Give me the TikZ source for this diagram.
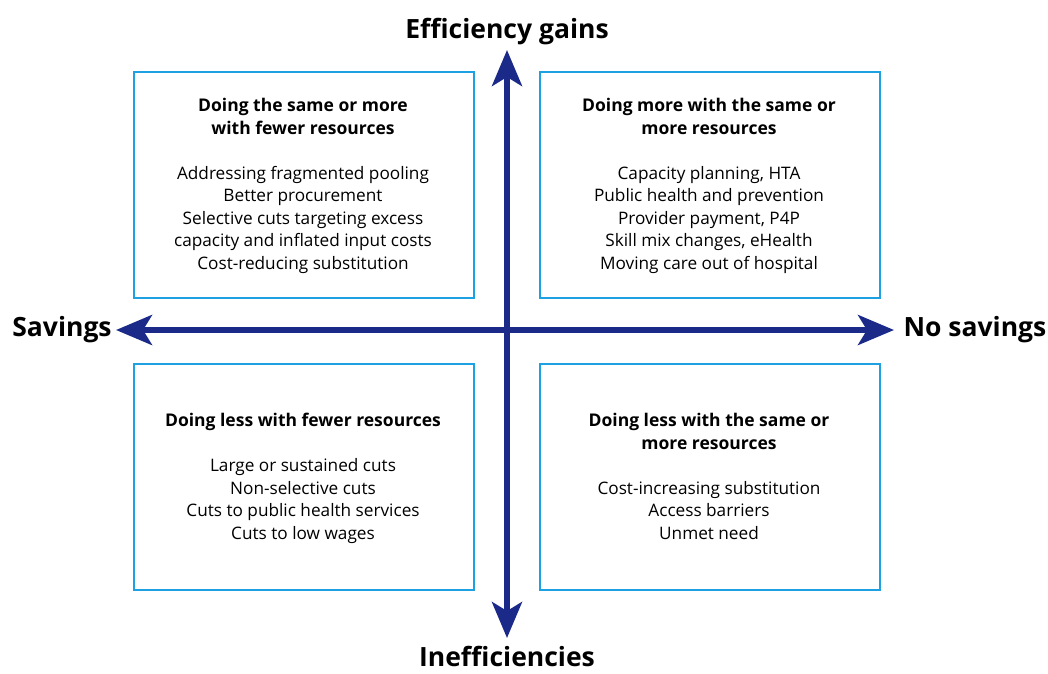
\documentclass[tikz,border=0pt]{standalone}
\usepackage{fontspec}
\setmainfont{Open Sans}
\usetikzlibrary{arrows.meta}
\definecolor{navy}{HTML}{1B2A88}
\definecolor{boxblue}{HTML}{1DA1E2}
\tikzset{
  quad/.style={draw=boxblue, line width=2.2pt, minimum width=340pt, minimum height=226pt, anchor=north west, inner sep=0pt},
  qtext/.style={align=center, font=\fontsize{17.2}{22.5}\selectfont, text=black},
  axlabel/.style={font=\fontsize{26.5}{30}\selectfont\bfseries, text=black, inner sep=0pt},
  axis/.style={draw=navy, line width=5.5pt, {Stealth[length=36pt,width=30pt,inset=9pt]}-{Stealth[length=36pt,width=30pt,inset=9pt]}}
}
\newcommand{\qtitle}[1]{{\fontsize{17.5}{22.5}\selectfont\bfseries #1}}
\begin{document}
\begin{tikzpicture}[x=1pt,y=-1pt]
\useasboundingbox (0,0) rectangle (1048,673);
\node[quad] (tl) at (133,71) {};
\node[quad] (tr) at (539,71) {};
\node[quad] (bl) at (133,363) {};
\node[quad] (br) at (539,363) {};
\coordinate (top) at (507,50);
\coordinate (bot) at (507,638);
\coordinate (lft) at (116,330);
\coordinate (rgt) at (894,330);
\draw[axis] (bot) -- (top);
\draw[axis] (lft) -- (rgt);
\node[axlabel, anchor=base] (eg) at (507,38.5) {Efficiency gains};
\node[axlabel, anchor=base] (ie) at (507,666) {Inefficiencies};
\node[axlabel] (sv) at (62,330) {Savings};
\node[axlabel] (ns) at (975,330) {No savings};
\node[qtext, anchor=north] (tlt) at (303,95) {\qtitle{Doing the same or more}\\\qtitle{with fewer resources}\\[22.5pt]Addressing fragmented pooling\\Better procurement\\Selective cuts targeting excess\\capacity and inflated input costs\\Cost-reducing substitution};
\node[qtext, anchor=north] (trt) at (709,95) {\qtitle{Doing more with the same or}\\\qtitle{more resources}\\[22.5pt]Capacity planning, HTA\\Public health and prevention\\Provider payment, P4P\\Skill mix changes, eHealth\\Moving care out of hospital};
\node[qtext, anchor=north] (blt) at (303,410) {\qtitle{Doing less with fewer resources}\\[22.5pt]Large or sustained cuts\\Non-selective cuts\\Cuts to public health services\\Cuts to low wages};
\node[qtext, anchor=north] (brt) at (709,410) {\qtitle{Doing less with the same or}\\\qtitle{more resources}\\[22.5pt]Cost-increasing substitution\\Access barriers\\Unmet need};
\end{tikzpicture}
\end{document}
